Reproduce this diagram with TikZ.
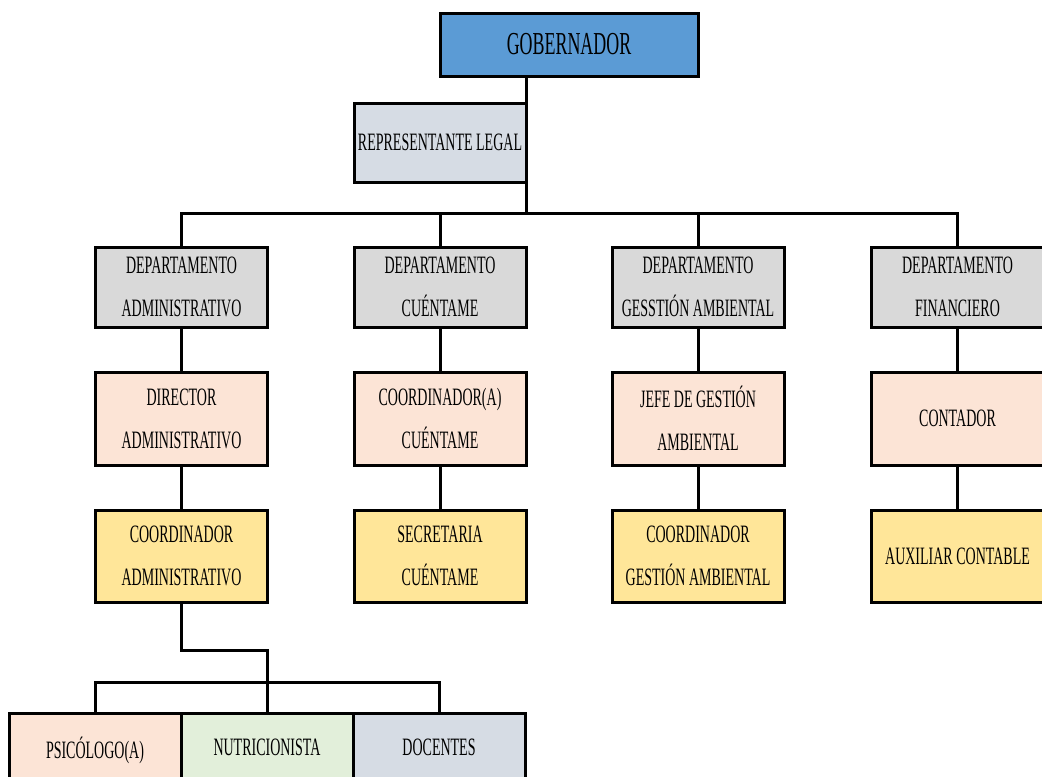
\documentclass[tikz,border=0pt]{standalone}
\usepackage{fontspec}
\usepackage{tikz}
\usepackage{xcolor}
\usetikzlibrary{positioning}
\usetikzlibrary{calc}
\newfontfamily\orgfont[FakeStretch=0.56]{Liberation Serif}
\definecolor{gobcol}{RGB}{91, 155, 213}
\definecolor{repcol}{RGB}{214, 220, 228}
\definecolor{depcol}{RGB}{217, 217, 217}
\definecolor{jefcol}{RGB}{252, 228, 214}
\definecolor{auxcol}{RGB}{255, 230, 153}
\definecolor{nutcol}{RGB}{226, 239, 218}
\tikzstyle{orgbox} = [
	draw=black,
	line width=1.5pt,
	minimum width=86pt,
	align=center,
	inner sep=1pt,
	outer sep=0pt,
	font=\orgfont\fontsize{12.5}{21.5}\selectfont
]
\tikzstyle{depbox} = [
	orgbox,
	fill=depcol,
	minimum height=40pt
]
\tikzstyle{jefbox} = [
	orgbox,
	fill=jefcol,
	minimum height=46.5pt
]
\tikzstyle{auxbox} = [
	orgbox,
	fill=auxcol,
	minimum height=46pt
]
\tikzstyle{link} = [
	line width=1.5pt
]

\begin{document}
\begin{tikzpicture}[x=0.5pt, y=-0.5pt, node distance=22.5pt and 0pt]
	\useasboundingbox (0,0) rectangle (1042,776);

	% Top
	\node[orgbox, fill=gobcol, minimum width=129pt, minimum height=31.5pt, font=\orgfont\fontsize{16}{18}\selectfont] (gob) at (569,44.5) {GOBERNADOR};
	\node[orgbox, fill=repcol, minimum height=39.5pt] (rep) at (440,142.5) {REPRESENTANTE LEGAL};

	% Departments
	\node[depbox] (depA) at (181.5,287) {DEPARTAMENTO\\ADMINISTRATIVO};
	\node[depbox] (depB) at (440,287) {DEPARTAMENTO\\CUÉNTAME};
	\node[depbox] (depC) at (698,287) {DEPARTAMENTO\\GESSTIÓN AMBIENTAL};
	\node[depbox] (depD) at (957.5,287) {DEPARTAMENTO\\FINANCIERO};

	\node[jefbox, below=of depA] (jefA) {DIRECTOR\\ADMINISTRATIVO};
	\node[jefbox, below=of depB] (jefB) {COORDINADOR(A)\\CUÉNTAME};
	\node[jefbox, below=of depC] (jefC) {JEFE DE GESTIÓN\\AMBIENTAL};
	\node[jefbox, below=of depD] (jefD) {CONTADOR};

	\node[auxbox, below=of jefA] (auxA) {COORDINADOR\\ADMINISTRATIVO};
	\node[auxbox, below=of jefB] (auxB) {SECRETARIA\\CUÉNTAME};
	\node[auxbox, below=of jefC] (auxC) {COORDINADOR\\GESTIÓN AMBIENTAL};
	\node[auxbox, below=of jefD] (auxD) {AUXILIAR CONTABLE};

	% Bottom row
	\node[orgbox, fill=jefcol, minimum height=37pt] (psic) at (95,750) {PSICÓLOGO(A)};
	\node[orgbox, fill=nutcol, minimum height=37pt, right=of psic] (nutr) {\raisebox{3pt}{NUTRICIONISTA}};
	\node[orgbox, fill=repcol, minimum height=37pt, right=of nutr] (doce) {\raisebox{3pt}{DOCENTES}};

	% Lines
	\coordinate (bus) at (526,213);
	\coordinate (split) at (181.5,650);
	\coordinate (bus2) at (268,682);
	\draw[link] (rep.east |- gob.south) -- (bus);
	\draw[link] (depA.north) |- (bus) -| (depD.north);
	\draw[link] (depB.north) -- (depB.north |- bus);
	\draw[link] (depC.north) -- (depC.north |- bus);
	\foreach \c in {A,B,C,D} {
		\draw[link] (dep\c.south) -- (jef\c.north);
		\draw[link] (jef\c.south) -- (aux\c.north);
	}
	\draw[link] (auxA.south) |- (split) -| (nutr.north);
	\draw[link] (psic.north) |- (bus2) -| (doce.north);

\end{tikzpicture}
\end{document}
